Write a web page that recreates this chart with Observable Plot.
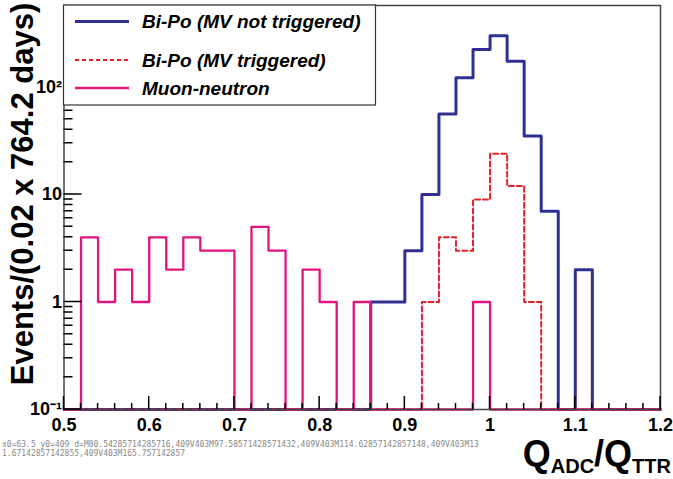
<!DOCTYPE html>
<html>
<head>
<meta charset="utf-8">
<script src="https://cdn.jsdelivr.net/npm/d3@7"></script>
<script src="https://cdn.jsdelivr.net/npm/@observablehq/plot@0.6"></script>
<style>
  body { margin: 0; background: #fff; }
  #wrap { position: relative; width: 673px; height: 479px; }
  #dbg { position: absolute; left: 2px; top: 440px; width: 480px; font: 8px monospace; color: #888; word-break: break-all; white-space: pre-wrap; }
</style>
</head>
<body>
<div id="wrap"></div>
<div id="dbg"></div>
<script>
// ---- data ----
const binEdges = [0.50,0.52,0.54,0.56,0.58,0.60,0.62,0.64,0.66,0.68,0.70,0.72,0.74,0.76,0.78,0.80,0.82,0.84,0.86,0.88,0.90,0.92,0.94,0.96,0.98,1.00,1.02,1.04,1.06,1.08,1.10,1.12,1.14,1.16,1.18,1.20];
const bipoNotTriggered = [0,0,0,0,0,0,0,0,0,0,0,0,0,0,0,0,0,0,1,1,3,10,56,122,223,300,174,35,7,0,2,0,0,0,0];
const bipoTriggered    = [0,0,0,0,0,0,0,0,0,0,0,0,0,0,0,0,0,0,0,0,0,1,4,3,9,24,12,1,0,0,0,0,0,0,0];
const muonNeutron      = [0,4,1,2,1,4,2,4,3,3,0,5,3,0,2,1,0,1,0,0,0,0,0,0,1,0,0,0,0,0,0,0,0,0,0];
const seriesNames = ["Bi-Po (MV not triggered)", "Bi-Po (MV triggered)", "Muon-neutron"];
const seriesColors = ["#2e3192", "#e8202a", "#e4147f"];
const xMajor = [0.5,0.6,0.7,0.8,0.9,1.0,1.1,1.2];
const xMajorLabels = ["0.5","0.6","0.7","0.8","0.9","1","1.1","1.2"];
const xMinor = [0.52,0.54,0.56,0.58,0.62,0.64,0.66,0.68,0.72,0.74,0.76,0.78,0.82,0.84,0.86,0.88,0.92,0.94,0.96,0.98,1.02,1.04,1.06,1.08,1.12,1.14,1.16,1.18];
const yMajor = [0.1,1,10,100];
const yMajorLabels = ["10\u207B\u00B9","1","10","10\u00B2"];
const yMinor = [0.2,0.3,0.4,0.5,0.6,0.7,0.8,0.9,2,3,4,5,6,7,8,9,20,30,40,50,60,70,80,90,200,300,400,500];
const xDomain = [0.5, 1.2];
const yDomain = [0.1, 573];
const xTitleParts = ["Q","ADC","/Q","TTR"];
const yTitle = "Events/(0.02 x 764.2 days)";

// ---- build step data ----
function steps(values, name) {
  const pts = values.map((v, i) => ({x: binEdges[i], y: Math.max(v, yDomain[0]), s: name}));
  pts.push({x: binEdges[binEdges.length - 1], y: Math.max(values[values.length - 1], yDomain[0]), s: name});
  return pts;
}
const dBlue = steps(bipoNotTriggered, seriesNames[0]);
const dRed = steps(bipoTriggered, seriesNames[1]);
const dPink = steps(muonNeutron, seriesNames[2]);

const font = "Liberation Sans, Arial, Helvetica, sans-serif";
let log = "";

const plot = Plot.plot({
  width: 673,
  height: 479,
  marginLeft: 63.5,
  marginRight: 13,
  marginTop: 5,
  marginBottom: 70,
  x: {type: "linear", domain: xDomain, axis: null},
  y: {type: "log", domain: yDomain, axis: null},
  marks: [
    Plot.lineY(dBlue, {x: "x", y: "y", curve: "step-after", stroke: seriesColors[0], strokeWidth: 3}),
    Plot.lineY(dRed, {x: "x", y: "y", curve: "step-after", stroke: seriesColors[1], strokeWidth: 2, strokeDasharray: "5,3"}),
    Plot.lineY(dPink, {x: "x", y: "y", curve: "step-after", stroke: seriesColors[2], strokeWidth: 2.3}),
    Plot.axisX(xMajor, {tickSize: 0, tickPadding: 9, fontSize: 18, fontWeight: "bold", fontFamily: font, fill: "#000", label: null,
      tickFormat: d => xMajorLabels[xMajor.findIndex(v => Math.abs(v - d) < 1e-9)]}),
    Plot.axisY(yMajor, {tickSize: 0, tickPadding: 2, fontSize: 18, fontWeight: "bold", fontFamily: font, fill: "#000", label: null,
      tickFormat: d => yMajorLabels[yMajor.findIndex(v => Math.abs(v - d) < 1e-9)]}),
    Plot.frame({stroke: "#444", strokeWidth: 1.5})
  ]
});
document.getElementById("wrap").appendChild(plot);

const svg = d3.select(plot);
const xs = plot.scale("x"), ys = plot.scale("y");
const sx = v => xs.apply(v);
const sy = v => ys.apply(v);
const x0 = sx(xDomain[0]), y0 = sy(yDomain[0]);

// inward ticks positioned by the plot's own scales, drawn as one path
let tp = "";
xMinor.forEach(v => { tp += `M${sx(v)},${y0}V${y0 - 6}`; });
xMajor.forEach(v => { tp += `M${sx(v)},${y0}V${y0 - 13}`; });
yMinor.forEach(v => { tp += `M${x0},${sy(v)}H${x0 + 9}`; });
yMajor.forEach(v => { tp += `M${x0},${sy(v)}H${x0 + 18}`; });
svg.append("path").attr("d", tp).attr("fill", "none").attr("stroke", "#000").attr("stroke-width", 1.5);

// y title
svg.append("text")
  .attr("transform", "translate(22,194) rotate(-90)")
  .attr("text-anchor", "middle")
  .attr("dominant-baseline", "central")
  .style("font-family", font)
  .style("font-weight", "bold")
  .style("font-size", "31px")
  .attr("fill", "#000")
  .text(yTitle);

// x title
const xt = svg.append("text")
  .attr("x", 671).attr("y", 466)
  .attr("text-anchor", "end")
  .style("font-family", font)
  .style("font-weight", "bold")
  .attr("fill", "#000");
xt.append("tspan").style("font-size", "36px").text(xTitleParts[0]);
xt.append("tspan").style("font-size", "20px").attr("dy", 7).text(xTitleParts[1]);
xt.append("tspan").style("font-size", "36px").attr("dy", -7).text(xTitleParts[2]);
xt.append("tspan").style("font-size", "20px").attr("dy", 7).text(xTitleParts[3]);

// legend
const lg = svg.append("g");
lg.append("rect").attr("x", 63.5).attr("y", 5).attr("width", 312).attr("height", 100)
  .attr("fill", "#fff").attr("stroke", "#333").attr("stroke-width", 1.2);
const rowsY = [21.5, 60, 88];
const dashes = [null, "4,3", null];
const widths = [3, 2, 2.3];
seriesNames.forEach((name, i) => {
  lg.append("line").attr("x1", 75).attr("x2", 129).attr("y1", rowsY[i]).attr("y2", rowsY[i])
    .attr("stroke", seriesColors[i]).attr("stroke-width", widths[i])
    .attr("stroke-dasharray", dashes[i]);
  lg.append("text").attr("x", 142).attr("y", rowsY[i]).attr("dy", "0.36em")
    .attr("text-anchor", "start")
    .style("font-family", font).style("font-weight", "bold").style("font-style", "italic")
    .style("font-size", "19px").attr("fill", "#000").text(name);
});

log += "x0=" + x0 + " y0=" + y0 + " d=" + tp.slice(0, 120);
document.getElementById("dbg").textContent = log;
</script>
</body>
</html>
